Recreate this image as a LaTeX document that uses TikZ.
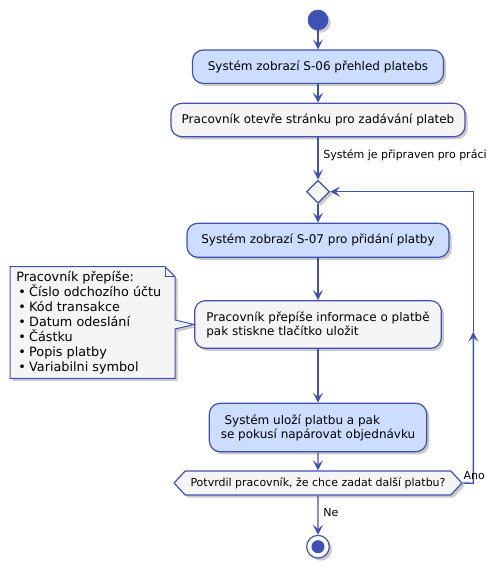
\documentclass[tikz,border=0pt]{standalone}
\usepackage{fontspec}
\setmainfont{DejaVu Sans}
\usetikzlibrary{arrows.meta,shapes.geometric,shapes.symbols,shadows}
\definecolor{umlcara}{HTML}{3F51B5}
\definecolor{umlmodra}{HTML}{CCDDFF}
\definecolor{umlseda}{HTML}{F5F5F5}
\begin{document}
\begin{tikzpicture}[x=0.75pt,y=-0.75pt,>={Stealth[length=7.5pt,width=7.5pt,inset=3.2pt]},
  stin/.style={drop shadow={shadow xshift=2pt,shadow yshift=-2pt,opacity=0.35,fill=black!60}},
  krok/.style={draw=umlcara,line width=0.9pt,rounded corners=8pt,inner sep=0pt,stin,font=\fontsize{9}{10.5}\selectfont},
  modry/.style={krok,fill=umlmodra},
  sedy/.style={krok,fill=umlseda},
  tok/.style={->,draw=umlcara,line width=1.05pt},
  popis/.style={font=\fontsize{8.25}{10}\selectfont,inner sep=1pt}]
\useasboundingbox (0,0) rectangle (503,574);
%Start
\node[circle,fill=umlcara,draw=umlcara,minimum size=15pt,inner sep=0pt,stin] (start) at (318,20) {};
%Kroky
\node[modry,minimum width=188.3pt,minimum height=25pt] (b1) at (318,66.7) {Systém zobrazí S-06 přehled platebs};
\node[sedy,minimum width=220.5pt,minimum height=25pt] (b2) at (318,120) {Pracovník otevře stránku pro zadávání plateb};
%Smycka
\node[diamond,draw=umlcara,fill=umlseda,line width=0.9pt,minimum size=17.25pt,inner sep=0pt,stin] (rozh) at (318,191.7) {};
\node[modry,minimum width=196.5pt,minimum height=25.5pt] (b3) at (318,240.3) {Systém zobrazí S-07 pro přidání platby};
\node[sedy,minimum width=185pt,minimum height=35.7pt,align=left] (b4) at (318,324.5) {Pracovník přepíše informace o platbě\\pak stiskne tlačítko uložit};
\node[modry,minimum width=163pt,minimum height=36.3pt,align=left] (b5) at (318,427.5) {\ Systém uloží platbu a pak\\se pokusí napárovat objednávku};
%Dotaz
\node[signal,signal to=west and east,signal pointer angle=95,draw=umlcara,fill=umlseda,line width=0.9pt,
  minimum width=215.8pt,minimum height=18pt,inner sep=0pt,stin,font=\fontsize{8.25}{10}\selectfont] (dotaz) at (318,483) {Potvrdil pracovník, že chce zadat další platbu?};
%Konec
\node[circle,draw=umlcara,fill=white,line width=0.9pt,minimum size=17pt,inner sep=0pt,stin] (konec) at (318,546.7) {};
\fill[umlcara] (konec.center) circle (4.9pt);
%Poznamka
\draw[draw=umlcara,fill=umlseda,line width=0.75pt,stin] (10,266.7) -- (165,266.7) -- (175,276.7) -- (175,320)
  -- (b4.west) -- (175,329) -- (175,378.3) -- (10,378.3) -- cycle;
\draw[draw=umlcara,line width=0.75pt] (165,266.7) -- (165,276.7) -- (175,276.7);
\node[anchor=west,align=left,inner sep=0pt,font=\fontsize{9.6}{11.25}\selectfont] (pozn) at (16,322.5)
  {Pracovník přepíše:\\
   \hspace*{1.5pt}•\hspace{2.5pt}Číslo odchozího účtu\\
   \hspace*{1.5pt}•\hspace{2.5pt}Kód transakce\\
   \hspace*{1.5pt}•\hspace{2.5pt}Datum odeslání\\
   \hspace*{1.5pt}•\hspace{2.5pt}Částku\\
   \hspace*{1.5pt}•\hspace{2.5pt}Popis platby\\
   \hspace*{1.5pt}•\hspace{2.5pt}Variabilni symbol};
%Sipky
\draw[tok] (start) -- (b1);
\draw[tok] (b1) -- (b2);
\draw[tok] (b2) -- (rozh) node[popis,pos=0.42,anchor=west,xshift=2.5pt]{Systém je připraven pro práci};
\draw[tok] (rozh) -- (b3);
\draw[tok] (b3) -- (b4);
\draw[tok] (b4) -- (b5);
\draw[tok] (b5) -- (dotaz);
\draw[tok] (dotaz) -- (konec) node[popis,pos=0.44,anchor=west,xshift=2.5pt]{Ne};
%Zpet
\coordinate (smyc) at (473.3,483.3);
\coordinate (smycs) at (473.3,331.7);
\draw[tok] (dotaz.east) -- (smyc) -- (smycs);
\draw[tok] (smycs) |- (rozh.east);
\node[popis,anchor=south west,inner sep=0.5pt,yshift=1.5pt] (ano) at (dotaz.east) {Ano};
\end{tikzpicture}
\end{document}
